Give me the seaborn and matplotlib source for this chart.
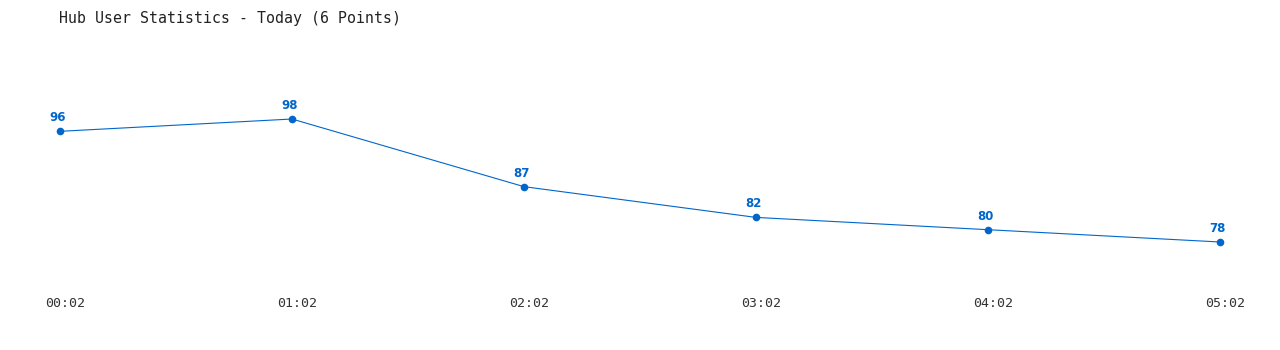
import matplotlib
matplotlib.use("Agg")
import matplotlib.pyplot as plt
import matplotlib.transforms as mtransforms
import seaborn as sns
import pandas as pd

times = ["00:02", "01:02", "02:02", "03:02", "04:02", "05:02"]
users = [96, 98, 87, 82, 80, 78]

sns.set_theme(style="white")
plt.rcParams['font.family'] = ['DejaVu Sans']

df = pd.DataFrame({"idx": range(len(times)), "users": users})

fig = plt.figure(figsize=(12.8, 3.5), dpi=100)
ax = fig.add_axes([60/1280, 70/350, 1160/1280, 240/350])
color = "#0066cc"
sns.lineplot(data=df, x="idx", y="users", ax=ax, color=color, linewidth=0.8,
             marker="o", markersize=5.5, markeredgewidth=0, markerfacecolor=color)
for ln in ax.lines:
    ln.set_clip_on(False)

for i, v in zip(df["idx"], df["users"]):
    ax.annotate(str(v), (i, v), xytext=(-2, 5), textcoords="offset points",
                ha="center", va="bottom", color=color, fontsize=8.5, fontweight="bold")

ax.set_xlim(0, 5)
ax.set_ylim(71.82, 110.85)
ax.set_xticks(range(len(times)))
ax.set_xticklabels(times, fontfamily="DejaVu Sans Mono", fontsize=9.5, color="#333333")
ax.set_yticks([])
ax.tick_params(axis="x", length=0, pad=12)
ax.set_xlabel("")
ax.set_ylabel("")
for s in ax.spines.values():
    s.set_visible(False)
ax.set_facecolor("white")
offset = mtransforms.ScaledTranslation(5/100, 0, fig.dpi_scale_trans)
for lbl in ax.get_xticklabels():
    lbl.set_transform(lbl.get_transform() + offset)

fig.text(59/1280, 1 - 18/350, "Hub User Statistics - Today (6 Points)",
         fontfamily="DejaVu Sans Mono", fontsize=10.7, color="#222222",
         ha="left", va="center")

fig.savefig("out.png", dpi=100, facecolor="white")
